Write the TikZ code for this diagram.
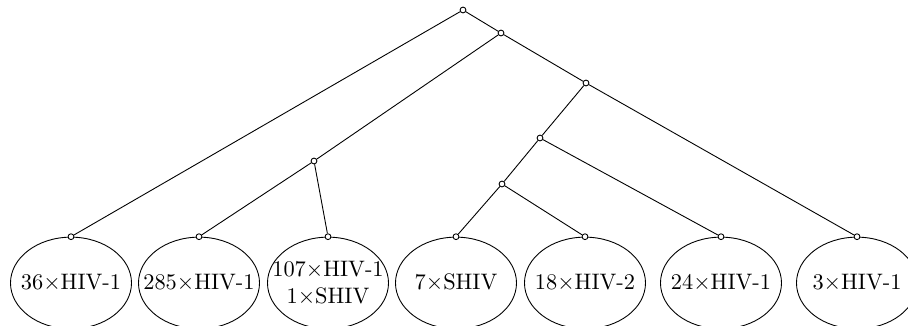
\documentclass[tikz,border=0pt]{standalone}
\usetikzlibrary{shapes.geometric}

\tikzset{
  junction/.style={circle,draw,fill=white,inner sep=0pt,minimum size=2.6pt},
  strain/.style={ellipse,draw,inner xsep=-25pt,inner ysep=-5pt,minimum width=1.9cm,minimum height=1.44cm,align=center}
}

\begin{document}
\begin{tikzpicture}[x=0.0157cm,y=-0.0157cm]
	\useasboundingbox (0,0) rectangle (908,326);
	% leaves
	\node[strain] (s1) at (71,283)  {$36\times$HIV-1};
	\node[strain] (s2) at (199,283) {$285\times$HIV-1};
	\node[strain] (s3) at (328,283) {$107\times$HIV-1\\$1\times$SHIV};
	\node[strain] (s4) at (456,283) {$7\times$SHIV};
	\node[strain] (s5) at (585,283) {$18\times$HIV-2};
	\node[strain] (s6) at (721,283) {$24\times$HIV-1};
	\node[strain] (s7) at (857,283) {$3\times$HIV-1};
	% inner vertices
	\node[junction] (r)  at (463,10)  {};
	\node[junction] (a)  at (501,33)  {};
	\node[junction] (b)  at (586,83)  {};
	\node[junction] (c)  at (540,138) {};
	\node[junction] (d)  at (502,184) {};
	\node[junction] (e)  at (314,161) {};
	\foreach \i in {1,...,7}
		\node[junction] (t\i) at (s\i.north) {};
	\draw (r)--(t1);
	\draw (r)--(a);
	\draw (a)--(e);
	\draw (a)--(b);
	\draw (e)--(t2);
	\draw (e)--(t3);
	\draw (b)--(c);
	\draw (b)--(t7);
	\draw (c)--(d);
	\draw (c)--(t6);
	\draw (d)--(t4);
	\draw (d)--(t5);
\end{tikzpicture}
\end{document}
